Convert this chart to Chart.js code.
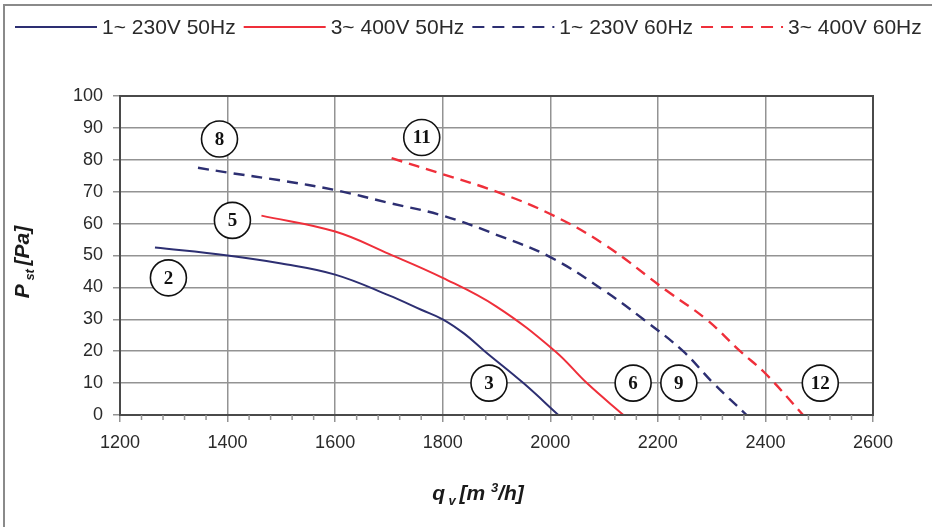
<!DOCTYPE html>
<html>
<head>
<meta charset="utf-8">
<script src="https://cdn.jsdelivr.net/npm/chart.js@4.4.1/dist/chart.umd.min.js"></script>
<style>
  html, body { margin: 0; padding: 0; background: #fff; }
  #wrap { width: 932px; height: 527px; }
</style>
</head>
<body>
<div id="wrap"><canvas id="chart" width="932" height="527"></canvas></div>
<script>
// axis ranges
const qMin = 1200
const qMax = 2600
const qStep = 200
const qMinorStep = 40
const pMin = 0
const pMax = 100
const pStep = 10

// 1~ 230V 50Hz
const q230v50 = [1265, 1400, 1500, 1600, 1700, 1760, 1800, 1840, 1878, 1950, 2015]
const p230v50 = [52.5, 50, 47.5, 44, 37.5, 33, 30, 25.5, 20, 10, 0]

// 3~ 400V 50Hz
const q400v50 = [1463, 1600, 1700, 1800, 1900, 2009, 2068, 2136]
const p400v50 = [62.5, 57.5, 50.5, 43, 34, 20, 10, 0]

// 1~ 230V 60Hz
const q230v60 = [1345, 1400, 1500, 1600, 1700, 1800, 1900, 2000, 2100, 2173, 2247, 2303, 2365]
const p230v60 = [77.5, 76, 73.5, 70.5, 66.5, 62.5, 56.5, 49.5, 39, 30, 20, 10, 0]

// 3~ 400V 60Hz
const q400v60 = [1705, 1800, 1900, 2000, 2100, 2216, 2290, 2353, 2400, 2470]
const p400v60 = [80.5, 75.5, 70, 63, 53.5, 39, 30, 20, 13, 0]

// circled curve numbers
const markerLabels = ['2', '3', '5', '6', '8', '9', '11', '12']
const markerQ = [1290, 1886, 1409, 2154, 1385, 2239, 1761, 2502]
const markerP = [43, 10, 61, 10, 86.5, 10, 87, 10]

const navy = '#2d2f72'
const red = '#ef2f3a'
const textColor = '#2a2a2a'
const gridColor = '#939393'
const borderColor = '#4a4a4a'

const toPoints = (xs, ys) => xs.map((x, i) => ({ x, y: ys[i] }))

const curve = (label, xs, ys, color, dash) => ({
  label,
  data: toPoints(xs, ys),
  borderColor: color,
  borderWidth: dash ? 2.4 : 2,
  borderDash: dash || [],
  pointRadius: 0,
  fill: false,
  tension: 0.4,
  isCurve: true,
})

const decorations = {
  id: 'decorations',
  beforeDraw(chart) {
    const { ctx, width, height } = chart
    ctx.save()
    // outer frame (only top and left visible)
    ctx.strokeStyle = '#8a8a8a'
    ctx.lineWidth = 2
    ctx.beginPath()
    ctx.moveTo(width + 2, 5)
    ctx.lineTo(4, 5)
    ctx.lineTo(4, height + 2)
    ctx.stroke()

    // legend
    ctx.font = '21px "Liberation Sans", Arial, sans-serif'
    ctx.textBaseline = 'middle'
    ctx.textAlign = 'left'
    let x = 15
    const y = 27
    chart.data.datasets.forEach((ds) => {
      if (!ds.isCurve) return
      ctx.strokeStyle = ds.borderColor
      ctx.lineWidth = 2
      ctx.setLineDash(ds.borderDash.length ? [12, 8] : [])
      ctx.beginPath()
      ctx.moveTo(x, y)
      ctx.lineTo(x + 82, y)
      ctx.stroke()
      ctx.setLineDash([])
      ctx.fillStyle = textColor
      ctx.fillText(ds.label, x + 87, y + 1)
      x += 87 + ctx.measureText(ds.label).width + 8
    })
    ctx.restore()
  },
  afterDatasetsDraw(chart) {
    const { ctx, chartArea, scales } = chart
    ctx.save()
    // plot border
    ctx.strokeStyle = borderColor
    ctx.lineWidth = 2
    ctx.strokeRect(chartArea.left, chartArea.top, chartArea.right - chartArea.left, chartArea.bottom - chartArea.top)

    // minor ticks on the q axis
    ctx.strokeStyle = gridColor
    ctx.lineWidth = 1.5
    for (let v = qMin; v <= qMax; v += qMinorStep) {
      if (v % qStep === 0) continue
      const px = scales.x.getPixelForValue(v)
      ctx.beginPath()
      ctx.moveTo(px, chartArea.bottom)
      ctx.lineTo(px, chartArea.bottom + 5)
      ctx.stroke()
    }

    // numbers inside circles
    const meta = chart.getDatasetMeta(0)
    ctx.fillStyle = '#111'
    ctx.font = 'bold 19px "Liberation Serif", "Times New Roman", serif'
    ctx.textAlign = 'center'
    ctx.textBaseline = 'middle'
    meta.data.forEach((el, i) => {
      ctx.fillText(markerLabels[i], el.x, el.y + 1)
    })

    // axis titles with sub/superscripts
    const big = 'italic bold 21px "Liberation Sans", Arial, sans-serif'
    const small = 'italic bold 13px "Liberation Sans", Arial, sans-serif'
    const drawRich = (parts) => {
      let w = 0
      parts.forEach((p) => { ctx.font = p.font; w += ctx.measureText(p.text).width })
      let cx = -w / 2
      parts.forEach((p) => {
        ctx.font = p.font
        ctx.fillText(p.text, cx, p.dy)
        cx += ctx.measureText(p.text).width
      })
    }
    ctx.fillStyle = '#1a1a1a'
    ctx.textAlign = 'left'
    ctx.textBaseline = 'alphabetic'

    ctx.save()
    ctx.translate(29, 262)
    ctx.rotate(-Math.PI / 2)
    drawRich([
      { text: 'P', font: big, dy: 0 },
      { text: ' st ', font: small, dy: 5 },
      { text: '[Pa]', font: big, dy: 0 },
    ])
    ctx.restore()

    ctx.save()
    ctx.translate(478, 500)
    drawRich([
      { text: 'q', font: big, dy: 0 },
      { text: ' v ', font: small, dy: 5 },
      { text: '[m ', font: big, dy: 0 },
      { text: '3', font: small, dy: -8 },
      { text: '/h]', font: big, dy: 0 },
    ])
    ctx.restore()

    ctx.restore()
  },
}

const tickFont = { family: '"Liberation Sans", Arial, sans-serif', size: 18 }

const datasets = [
  {
    label: 'markers',
    data: toPoints(markerQ, markerP),
    showLine: false,
    pointRadius: 18,
    pointBorderWidth: 1.6,
    pointBackgroundColor: '#fff',
    pointBorderColor: '#111',
  },
  curve('1~ 230V 50Hz', q230v50, p230v50, navy),
  curve('3~ 400V 50Hz', q400v50, p400v50, red),
  curve('1~ 230V 60Hz', q230v60, p230v60, navy, [11, 7]),
  curve('3~ 400V 60Hz', q400v60, p400v60, red, [11, 7]),
]

new Chart(document.getElementById('chart'), {
  type: 'line',
  data: { datasets },
  options: {
    responsive: false,
    animation: false,
    layout: { padding: { top: 96, right: 59, left: 0, bottom: 0 } },
    scales: {
      x: {
        type: 'linear',
        min: qMin,
        max: qMax,
        ticks: { stepSize: qStep, font: tickFont, color: textColor, padding: 10, maxRotation: 0, callback: (v) => String(v) },
        grid: { color: gridColor, lineWidth: 1.5, tickLength: 7 },
        border: { color: borderColor, width: 2 },
        afterFit: (s) => { s.height = 112 },
      },
      y: {
        type: 'linear',
        min: pMin,
        max: pMax,
        ticks: { stepSize: pStep, font: tickFont, color: textColor, padding: 10 },
        grid: { color: gridColor, lineWidth: 1.5, tickLength: 7 },
        border: { color: borderColor, width: 2 },
        afterFit: (s) => { s.width = 120 },
      },
    },
    plugins: {
      legend: { display: false },
      tooltip: { enabled: false },
    },
  },
  plugins: [decorations],
})
</script>
</body>
</html>
